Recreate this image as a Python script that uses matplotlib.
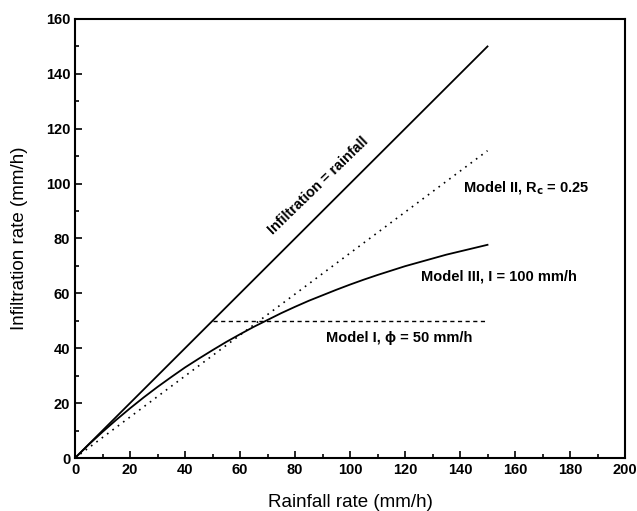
import matplotlib
matplotlib.use("Agg")
import matplotlib.pyplot as plt
from matplotlib.ticker import MultipleLocator

plt.rcParams['font.family'] = ['Liberation Sans', 'DejaVu Sans']

# Data
rain_equal = [0, 150]
infil_equal = [0, 150]

rain_m1 = [0, 50, 150]
infil_m1 = [0, 50, 50]

rain_m2 = [0, 150]
infil_m2 = [0, 112]

rain_m3 = [0, 5, 10, 15, 20, 25, 30, 35, 40, 45, 50, 55, 60, 65, 70, 75, 80,
           85, 90, 95, 100, 105, 110, 115, 120, 125, 130, 135, 140, 145, 150]
infil_m3 = [0, 4.9, 9.5, 13.9, 18.1, 22.1, 25.9, 29.5, 33.0, 36.2, 39.3, 42.3,
            45.1, 47.8, 50.3, 52.8, 55.1, 57.3, 59.3, 61.3, 63.2, 65.0, 66.7,
            68.3, 69.9, 71.3, 72.7, 74.1, 75.3, 76.5, 77.7]

fig = plt.figure(figsize=(6.37, 5.11), dpi=100)
ax = fig.add_axes([75/637, 1-458/511, 550/637, 439/511])

ax.plot(rain_equal, infil_equal, color='black', lw=1.3)
ax.plot(rain_m1[1:], infil_m1[1:], color='black', lw=1.0, ls=(0, (3, 2.5)))
ax.plot(rain_m2, infil_m2, color='black', lw=1.2, ls=(0, (1, 3)))
ax.plot(rain_m3, infil_m3, color='black', lw=1.3)

ax.set_xlim(0, 200)
ax.set_ylim(0, 160)
ax.xaxis.set_major_locator(MultipleLocator(20))
ax.xaxis.set_minor_locator(MultipleLocator(10))
ax.yaxis.set_major_locator(MultipleLocator(20))
ax.yaxis.set_minor_locator(MultipleLocator(10))
ax.tick_params(which='both', direction='in', top=False, right=False,
               labelsize=10.5, width=1.2)
ax.tick_params(which='major', length=5)
ax.tick_params(which='minor', length=3)
for lab in ax.get_xticklabels() + ax.get_yticklabels():
    lab.set_fontweight('bold')
for s in ax.spines.values():
    s.set_linewidth(1.5)

ax.set_xlabel('Rainfall rate (mm/h)', fontsize=13.5, labelpad=12)
ax.set_ylabel('Infiltration rate (mm/h)', fontsize=13.5, labelpad=13)

ax.text(88.4, 99.1, 'Infiltration = rainfall', rotation=44, rotation_mode='anchor',
        ha='center', va='center', fontsize=10.3, fontweight='bold')
ax.text(141, 98.4, 'Model II, R$_\\mathbf{c}$ = 0.25', ha='left', va='center',
        fontsize=10.5, fontweight='bold')
ax.text(125.8, 66.3, 'Model III, I = 100 mm/h', ha='left', va='center',
        fontsize=10.5, fontweight='bold')
ax.text(91.3, 43.7, 'Model I, \u03d5 = 50 mm/h', ha='left', va='center',
        fontsize=10.5, fontweight='bold')

fig.savefig('out.png', dpi=100)
